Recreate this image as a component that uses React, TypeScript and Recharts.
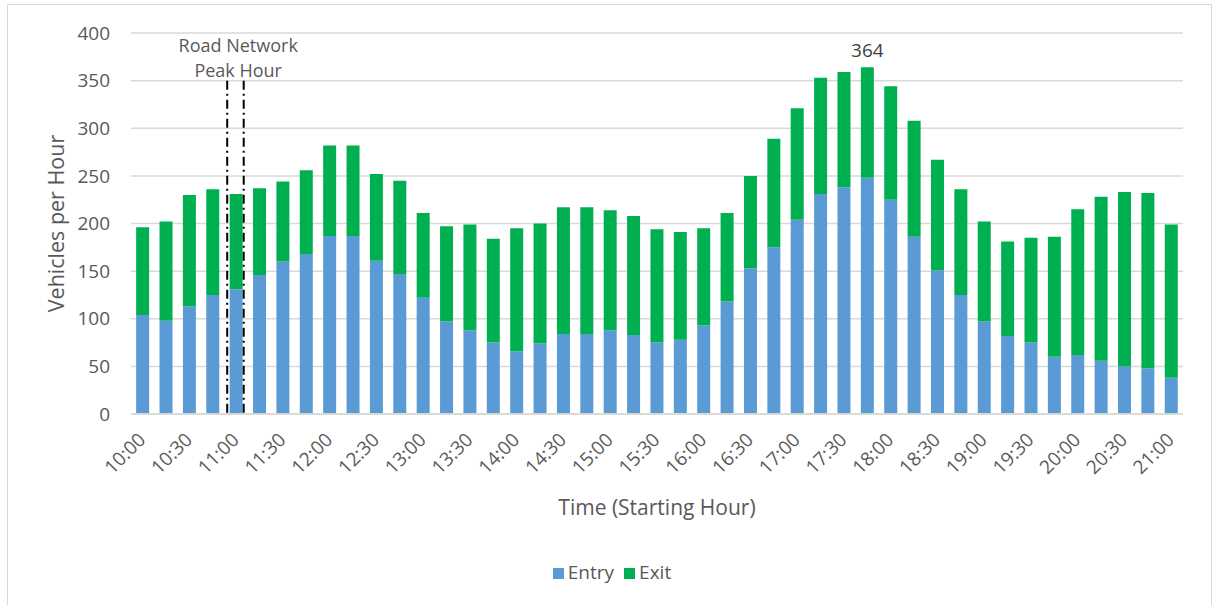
import React from "react";
import { BarChart, Bar, XAxis, YAxis, CartesianGrid, Legend, ReferenceLine, LabelList } from "recharts";

const times = [
  "10:00", "10:15", "10:30", "10:45", "11:00", "11:15", "11:30", "11:45",
  "12:00", "12:15", "12:30", "12:45", "13:00", "13:15", "13:30", "13:45",
  "14:00", "14:15", "14:30", "14:45", "15:00", "15:15", "15:30", "15:45",
  "16:00", "16:15", "16:30", "16:45", "17:00", "17:15", "17:30", "17:45",
  "18:00", "18:15", "18:30", "18:45", "19:00", "19:15", "19:30", "19:45",
  "20:00", "20:15", "20:30", "20:45", "21:00",
];

const entry = [
  104, 98, 113, 125, 131, 146, 160, 168, 187, 187, 161, 147, 122, 97, 88, 75,
  66, 74, 84, 84, 88, 83, 75, 78, 93, 118, 153, 175, 204, 231, 238, 248,
  225, 186, 151, 125, 97, 82, 75, 60, 62, 56, 50, 48, 38,
];

const exit = [
  92, 104, 117, 111, 100, 91, 84, 88, 95, 95, 91, 98, 89, 100, 111, 109,
  129, 126, 133, 133, 126, 125, 119, 113, 102, 93, 97, 114, 117, 122, 121, 116,
  119, 122, 116, 111, 105, 99, 110, 126, 153, 172, 183, 184, 161,
];

const yTicks = [0, 50, 100, 150, 200, 250, 300, 350, 400];

const peakTime = "11:00";
const peakTop = 350;
const peakLabel = ["Road Network", "Peak Hour"];

const data = times.map((time, i) => ({ time, entry: entry[i], exit: exit[i] }));
const totals = data.map((d) => d.entry + d.exit);
const maxIndex = totals.indexOf(Math.max(...totals));

const TEXT = "#595959";

const TimeTick = ({ x, y, payload }: any) => {
  const ax = x + 4;
  const ay = y + 27;
  return (
    <text x={ax} y={ay} transform={`rotate(-45 ${ax} ${ay})`} textAnchor="end" fill={TEXT} fontSize={19}>
      {payload.value}
    </text>
  );
};

const PeakMarker = (props: any) => {
  const { x1, y1, y2 } = props;
  const top = Math.min(y1, y2);
  const bottom = Math.max(y1, y2);
  const dash = "9 4 2 4";
  return (
    <g>
      <line x1={x1 - 9} x2={x1 - 9} y1={top} y2={bottom} stroke="#000" strokeWidth={2} strokeDasharray={dash} />
      <line x1={x1 + 7.5} x2={x1 + 7.5} y1={top} y2={bottom} stroke="#000" strokeWidth={2} strokeDasharray={dash} />
      <text x={x1 + 2} y={top - 28.5} textAnchor="middle" fill={TEXT} fontSize={18}>
        {peakLabel[0]}
      </text>
      <text x={x1 + 2} y={top - 3.5} textAnchor="middle" fill={TEXT} fontSize={18}>
        {peakLabel[1]}
      </text>
    </g>
  );
};

const TotalLabel = (props: any) => {
  const { x, y, width, index } = props;
  if (index !== maxIndex) return null;
  return (
    <text x={x + width / 2} y={y - 10} textAnchor="middle" fill="#404040" fontSize={19}>
      {totals[index]}
    </text>
  );
};

export default function App() {
  return (
    <div style={{ position: "absolute", left: 0, top: 0, width: 1218, height: 605, fontFamily: "'Open Sans', sans-serif", background: "#fff" }}>
      <div style={{ position: "absolute", left: 7, top: 4, width: 1205, height: 610, border: "1px solid #d9d9d9", boxSizing: "border-box" }} />
      <BarChart
        width={1218}
        height={605}
        data={data}
        margin={{ top: 33, right: 35, left: 0, bottom: 0 }}
        barCategoryGap="22%"
      >
        <CartesianGrid vertical={false} stroke="#d9d9d9" strokeWidth={1.5} />
        <XAxis
          dataKey="time"
          height={191}
          interval={1}
          tickLine={false}
          tickSize={0}
          tickMargin={0}
          axisLine={{ stroke: "#d9d9d9", strokeWidth: 2 }}
          tick={<TimeTick />}
          label={{
            content: ({ viewBox }: any) => (
              <text x={viewBox.x + viewBox.width / 2} y={viewBox.y + 93} textAnchor="middle" dominantBaseline="central" fill={TEXT} fontSize={21}>
                Time (Starting Hour)
              </text>
            ),
          }}
        />
        <YAxis
          domain={[0, 400]}
          ticks={yTicks}
          width={131}
          axisLine={false}
          tickLine={false}
          tickSize={0}
          tickMargin={21}
          tick={{ fill: TEXT, fontSize: 19 }}
          label={{
            content: ({ viewBox }: any) => {
              const cx = 55;
              const cy = viewBox.y + viewBox.height / 2;
              return (
                <text x={cx} y={cy} transform={`rotate(-90 ${cx} ${cy})`} textAnchor="middle" dominantBaseline="central" fill={TEXT} fontSize={21.5}>
                  Vehicles per Hour
                </text>
              );
            },
          }}
        />
        <Bar dataKey="entry" name="Entry" stackId="a" fill="#5B9BD5" isAnimationActive={false} />
        <Bar dataKey="exit" name="Exit" stackId="a" fill="#00B050" isAnimationActive={false}>
          <LabelList content={<TotalLabel />} />
        </Bar>
        <ReferenceLine
          segment={[{ x: peakTime, y: 0 }, { x: peakTime, y: peakTop }]}
          position="middle"
          ifOverflow="visible"
          shape={<PeakMarker />}
        />
        <Legend
          verticalAlign="middle"
          align="center"
          layout="horizontal"
          iconType="square"
          iconSize={11}
          wrapperStyle={{ top: 559, left: 8, width: 1218, fontSize: 19 }}
          formatter={(value: string) => <span style={{ color: TEXT }}>{value}</span>}
        />
      </BarChart>
    </div>
  );
}
